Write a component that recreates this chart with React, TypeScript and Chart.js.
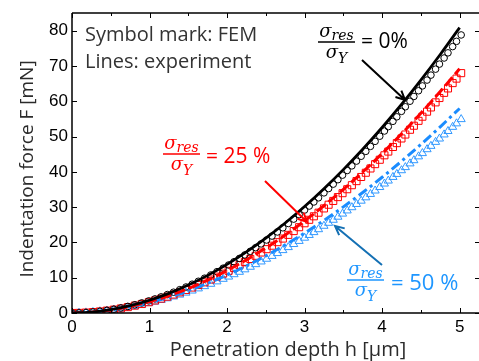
import React, { useEffect, useRef } from "react";
import { Chart, registerables } from "chart.js";

Chart.register(...registerables);

// ---- tick values ----
const xTicks = [0, 1, 2, 3, 4, 5];
const xMinorTicks = [0.5, 1.5, 2.5, 3.5, 4.5];
const yTicks = [0, 10, 20, 30, 40, 50, 60, 70, 80];

// ---- experiment lines (h in um, F in mN) ----
const lineH = [0, 0.25, 0.5, 0.75, 1, 1.25, 1.5, 1.75, 2, 2.25, 2.5, 2.75, 3, 3.25, 3.5, 3.75, 4, 4.25, 4.5, 4.75, 5];
const line0 = [0, 0.25, 0.95, 2.08, 3.62, 5.57, 7.92, 10.66, 13.79, 17.32, 21.22, 25.5, 30.16, 35.21, 40.62, 46.41, 52.57, 59.09, 65.99, 73.24, 80.86];
const line25 = [0, 0.23, 0.85, 1.85, 3.2, 4.9, 6.94, 9.32, 12.03, 15.06, 18.42, 22.09, 26.09, 30.4, 35.02, 39.95, 45.19, 50.74, 56.6, 62.75, 69.21];
const line50 = [0, 0.23, 0.84, 1.77, 3.0, 4.52, 6.33, 8.4, 10.74, 13.34, 16.19, 19.3, 22.65, 26.24, 30.07, 34.14, 38.45, 42.99, 47.76, 52.76, 57.95];

// ---- FEM symbols ----
const femH = [0, 0.09, 0.18, 0.27, 0.36, 0.45, 0.54, 0.63, 0.72, 0.81, 0.9, 0.99,
  1.07, 1.15, 1.23, 1.31, 1.39, 1.47, 1.55, 1.63, 1.71, 1.79, 1.87, 1.95,
  2.02, 2.09, 2.16, 2.23, 2.3, 2.37, 2.44, 2.51, 2.58, 2.65, 2.72, 2.79, 2.86, 2.93, 3.0,
  3.06, 3.12, 3.18, 3.25, 3.31, 3.37, 3.43, 3.49, 3.55, 3.61, 3.67, 3.73, 3.79, 3.85, 3.91, 3.97,
  4.03, 4.08, 4.14, 4.19, 4.25, 4.3, 4.36, 4.41, 4.47, 4.52, 4.58, 4.63, 4.69, 4.74, 4.8, 4.85, 4.91, 4.96, 5.02];
const fem0 = [0, 0.03, 0.13, 0.28, 0.49, 0.75, 1.07, 1.43, 1.86, 2.33, 2.86, 3.43,
  3.99, 4.58, 5.22, 5.89, 6.61, 7.36, 8.16, 8.99, 9.86, 10.77, 11.71, 12.7,
  13.6, 14.52, 15.47, 16.46, 17.47, 18.51, 19.58, 20.68, 21.8, 22.96, 24.14, 25.36, 26.6, 27.87, 29.17,
  30.3, 31.46, 32.64, 34.04, 35.26, 36.51, 37.77, 39.06, 40.37, 41.69, 43.04, 44.41, 45.8, 47.21, 48.64, 50.09,
  51.56, 52.8, 54.31, 55.58, 57.13, 58.43, 60.01, 61.35, 62.97, 64.34, 66.0, 67.4, 69.09, 70.52, 72.25, 73.71, 75.48, 76.97, 78.78];
const fem25 = [0, 0.03, 0.12, 0.26, 0.44, 0.68, 0.96, 1.29, 1.67, 2.09, 2.55, 3.06,
  3.55, 4.07, 4.63, 5.23, 5.85, 6.51, 7.21, 7.93, 8.69, 9.48, 10.31, 11.17,
  11.95, 12.75, 13.58, 14.43, 15.31, 16.21, 17.14, 18.09, 19.07, 20.07, 21.09, 22.14, 23.21, 24.31, 25.43,
  26.41, 27.4, 28.42, 29.63, 30.68, 31.75, 32.84, 33.95, 35.07, 36.21, 37.37, 38.54, 39.74, 40.95, 42.18, 43.42,
  44.68, 45.74, 47.04, 48.13, 49.45, 50.57, 51.92, 53.06, 54.45, 55.62, 57.04, 58.24, 59.68, 60.91, 62.38, 63.63, 65.14, 66.41, 67.96];
const fem50 = [0, 0.03, 0.12, 0.25, 0.43, 0.65, 0.91, 1.21, 1.54, 1.91, 2.32, 2.77,
  3.19, 3.65, 4.13, 4.64, 5.17, 5.73, 6.32, 6.93, 7.57, 8.23, 8.92, 9.64,
  10.28, 10.95, 11.63, 12.33, 13.06, 13.8, 14.56, 15.33, 16.13, 16.94, 17.78, 18.63, 19.5, 20.38, 21.29,
  22.07, 22.88, 23.7, 24.67, 25.51, 26.37, 27.24, 28.12, 29.02, 29.93, 30.85, 31.78, 32.73, 33.69, 34.66, 35.65,
  36.64, 37.48, 38.51, 39.36, 40.41, 41.29, 42.35, 43.25, 44.34, 45.26, 46.37, 47.31, 48.44, 49.39, 50.55, 51.52, 52.7, 53.69, 54.89];

const xTitle = "Penetration depth h [\u03bcm]";
const yTitle = "Indentation force F [mN]";
const note1 = "Symbol mark: FEM";
const note2 = "Lines: experiment";
const lab0 = "= 0%";
const lab25 = "= 25 %";
const lab50 = "= 50 %";

const RED = "#ff0000";
const BLUE = "#1a8cff";
const BLUE_MARK = "#3399ff";
const BLUE_TEXT = "#1e96ff";
const BLUE_ARROW = "#1470b4";

const SERIF = '"DejaVu Serif", "Liberation Serif", serif';
const SANS = '"Open Sans", "Noto Sans", sans-serif';

function drawFrac(ctx: CanvasRenderingContext2D, cx: number, by: number, color: string) {
  ctx.fillStyle = color;
  ctx.textBaseline = "alphabetic";
  ctx.textAlign = "left";
  const big = `italic 18px ${SERIF}`;
  const small = `italic 14px ${SERIF}`;
  ctx.font = big;
  const w1 = ctx.measureText("\u03c3").width;
  ctx.font = small;
  const w2 = ctx.measureText("res").width;
  let x0 = cx - (w1 + w2) / 2;
  ctx.font = big;
  ctx.fillText("\u03c3", x0, by - 5);
  ctx.font = small;
  ctx.fillText("res", x0 + w1, by - 2);
  ctx.fillRect(cx - 18.5, by - 0.75, 37, 1.5);
  ctx.font = small;
  const w3 = ctx.measureText("Y").width;
  x0 = cx - (w1 + w3) / 2;
  ctx.font = big;
  ctx.fillText("\u03c3", x0, by + 16);
  ctx.font = small;
  ctx.fillText("Y", x0 + w1, by + 21);
}

function drawArrow(ctx: CanvasRenderingContext2D, x1: number, y1: number, x2: number, y2: number, color: string) {
  ctx.strokeStyle = color;
  ctx.lineWidth = 2;
  ctx.beginPath();
  ctx.moveTo(x1, y1);
  ctx.lineTo(x2, y2);
  const ang = Math.atan2(y2 - y1, x2 - x1);
  const L = 10;
  ctx.moveTo(x2 - L * Math.cos(ang - 0.45), y2 - L * Math.sin(ang - 0.45));
  ctx.lineTo(x2, y2);
  ctx.lineTo(x2 - L * Math.cos(ang + 0.45), y2 - L * Math.sin(ang + 0.45));
  ctx.stroke();
}

const framePlugin = {
  id: "frame",
  afterDatasetsDraw(chart: any) {
    const { ctx, chartArea: a, scales } = chart;
    const xs = scales.x;
    const ys = scales.y;
    ctx.save();
    ctx.strokeStyle = "#000";
    ctx.lineWidth = 1.5;
    ctx.beginPath();
    ctx.moveTo(a.left, a.top);
    ctx.lineTo(a.left, a.bottom);
    ctx.lineTo(a.right, a.bottom);
    ctx.moveTo(a.left, a.top);
    ctx.lineTo(a.right, a.top);
    ctx.stroke();
    ctx.lineWidth = 1;
    ctx.beginPath();
    for (const v of xTicks) {
      const px = Math.round(xs.getPixelForValue(v)) + 0.5;
      ctx.moveTo(px, a.bottom);
      ctx.lineTo(px, a.bottom - 5);
      ctx.moveTo(px, a.top);
      ctx.lineTo(px, a.top + 5);
    }
    for (const v of xMinorTicks) {
      const px = Math.round(xs.getPixelForValue(v)) + 0.5;
      ctx.moveTo(px, a.bottom);
      ctx.lineTo(px, a.bottom - 3);
      ctx.moveTo(px, a.top);
      ctx.lineTo(px, a.top + 3);
    }
    for (const v of yTicks) {
      const py = Math.round(ys.getPixelForValue(v)) + 0.5;
      ctx.moveTo(a.left, py);
      ctx.lineTo(a.left + 5, py);
      ctx.moveTo(a.right, py);
      ctx.lineTo(a.right - 4, py);
    }
    ctx.stroke();

    ctx.fillStyle = "#2b2b2b";
    ctx.font = `20px ${SANS}`;
    ctx.textAlign = "center";
    ctx.textBaseline = "alphabetic";
    ctx.fillText(xTitle, 288, 356);
    ctx.save();
    ctx.translate(33, 169);
    ctx.rotate(-Math.PI / 2);
    ctx.font = `19px ${SANS}`;
    ctx.fillText(yTitle, 0, 0);
    ctx.restore();

    ctx.textAlign = "left";
    ctx.fillStyle = "#333";
    ctx.font = `20px ${SANS}`;
    ctx.fillText(note1, 85, 41);
    ctx.fillText(note2, 85, 68);

    drawFrac(ctx, 336.5, 42, "#000");
    ctx.font = `21px ${SANS}`;
    ctx.textAlign = "left";
    ctx.fillText(lab0, 361, 48);
    drawArrow(ctx, 362, 60, 405, 100, "#000");

    drawFrac(ctx, 181.5, 154, RED);
    ctx.font = `21px ${SANS}`;
    ctx.textAlign = "left";
    ctx.fillText(lab25, 206, 163);
    drawArrow(ctx, 265, 181, 307, 222, RED);

    drawFrac(ctx, 365.5, 280, BLUE_TEXT);
    ctx.font = `22px ${SANS}`;
    ctx.textAlign = "left";
    ctx.fillText(lab50, 391, 290);
    drawArrow(ctx, 382, 265, 335, 226, BLUE_ARROW);

    ctx.restore();
  },
};

function pts(xs: number[], ys: number[]) {
  return xs.map((x, i) => ({ x, y: ys[i] }));
}

export default function App() {
  const ref = useRef<HTMLCanvasElement | null>(null);
  useEffect(() => {
    if (!ref.current) return;
    const lineCommon = {
      showLine: true,
      pointRadius: 0,
      tension: 0.4,
      cubicInterpolationMode: "monotone" as const,
      fill: false,
    };
    const markCommon = {
      showLine: false,
      pointBorderWidth: 1,
      pointBackgroundColor: "rgba(0,0,0,0)",
      backgroundColor: "rgba(0,0,0,0)",
    };
    const chart = new Chart(ref.current, {
      type: "scatter",
      data: {
        datasets: [
          { ...lineCommon, label: "exp 0%", data: pts(lineH, line0), borderColor: "#000", borderWidth: 2.8 },
          { ...lineCommon, label: "exp 25%", data: pts(lineH, line25), borderColor: RED, borderWidth: 3, borderDash: [11, 4] },
          { ...lineCommon, label: "exp 50%", data: pts(lineH, line50), borderColor: BLUE, borderWidth: 3, borderDash: [10, 4, 3, 4] },
          { ...markCommon, label: "FEM 0%", data: pts(femH, fem0), borderColor: "#000", pointBorderColor: "#000", pointStyle: "circle", pointRadius: 3.3 },
          { ...markCommon, label: "FEM 25%", data: pts(femH, fem25), borderColor: RED, pointBorderColor: RED, pointStyle: "rect", pointRadius: 5 },
          { ...markCommon, label: "FEM 50%", data: pts(femH, fem50), borderColor: BLUE_MARK, pointBorderColor: BLUE_MARK, pointStyle: "triangle", pointRadius: 4.7 },
        ],
      },
      options: {
        animation: false,
        responsive: true,
        maintainAspectRatio: false,
        events: [],
        layout: { autoPadding: false, padding: { top: 13, right: 0, left: 0, bottom: 0 } },
        plugins: { legend: { display: false }, tooltip: { enabled: false } },
        scales: {
          x: {
            type: "linear",
            min: 0,
            max: 5.25,
            grid: { display: false, drawTicks: false },
            border: { display: false },
            afterBuildTicks: (s: any) => {
              s.ticks = xTicks.map((v) => ({ value: v }));
            },
            afterFit: (s: any) => {
              s.height = 48;
              s.paddingLeft = 0;
              s.paddingRight = 0;
            },
            ticks: {
              padding: 4,
              color: "#000",
              font: { family: '"Liberation Sans", Arial, sans-serif', size: 17 },
              maxRotation: 0,
            },
          },
          y: {
            type: "linear",
            min: 0,
            max: 85,
            grid: { display: false, drawTicks: false },
            border: { display: false },
            afterBuildTicks: (s: any) => {
              s.ticks = yTicks.map((v) => ({ value: v }));
            },
            afterFit: (s: any) => {
              s.width = 72;
              s.paddingTop = 0;
              s.paddingBottom = 0;
            },
            ticks: {
              padding: 4,
              color: "#000",
              font: { family: '"Liberation Sans", Arial, sans-serif', size: 17 },
            },
          },
        },
      },
      plugins: [framePlugin],
    });
    return () => chart.destroy();
  }, []);
  return (
    <div style={{ position: "absolute", left: 0, top: 0, width: 479, height: 361, background: "#fff" }}>
      <canvas ref={ref} />
    </div>
  );
}
